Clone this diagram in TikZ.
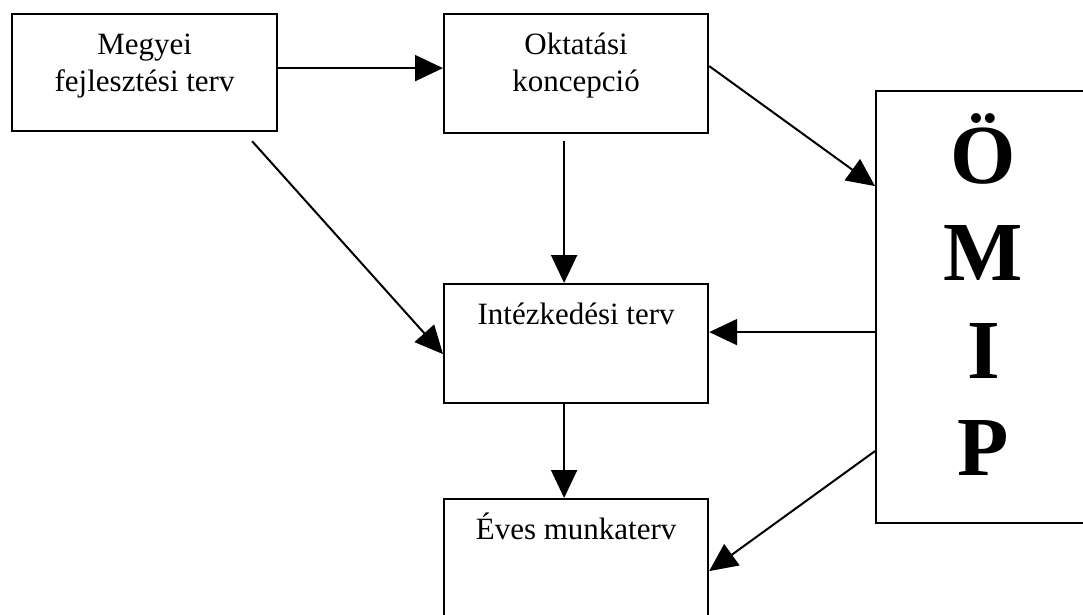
\documentclass[tikz,border=0pt]{standalone}
\usepackage{fontspec}
\setmainfont{Liberation Serif}
\usetikzlibrary{arrows.meta}

\newcommand{\doboz}[4][40]{\parbox[t][#3pt][t]{#2pt}{\centering\rule{0pt}{#1pt}#4}}

\begin{document}
\begin{tikzpicture}[x=1pt,y=-1pt]
\useasboundingbox (0,0) rectangle (1083,615);
\begin{scope}[every node/.style={draw,line width=2.2pt,inner sep=0pt,anchor=north west,
                                 font=\fontsize{31}{37}\selectfont}]
    \node (megyei) at (11,13) {\doboz{265}{117}{Megyei\\fejlesztési terv}};
    \node (oktatasi) at (443,13) {\doboz{264}{119}{Oktatási\\koncepció}};
    \node (intezkedesi) at (443,283) {\doboz{264}{119}{Intézkedési terv}};
    \node (eves) at (443,498) {\doboz{264}{127}{Éves munkaterv}};
    \node[font=\fontsize{84}{97.5}\selectfont\bfseries] (omip) at (875,90) {\doboz[92]{215}{432}{Ö\\M\\I\\P}};
\end{scope}

\begin{scope}[>={Triangle[length=28pt,width=26pt]},
              every edge/.style={draw=black, line width=2pt}]
    \path [->] ([yshift=4.5pt]megyei.east) edge ([yshift=5.5pt]oktatasi.west);
    \path [->] ([xshift=107.5pt,yshift=-9pt]megyei.south) edge ([yshift=-10.5pt]intezkedesi.west);
    \path [->] ([xshift=-12pt,yshift=-7pt]oktatasi.south) edge ([xshift=-12pt]intezkedesi.north);
    \path [->] ([yshift=7.5pt]oktatasi.east) edge ([yshift=121pt]omip.west);
    \path [->] ([yshift=-25pt]omip.west) edge ([yshift=11.5pt]intezkedesi.east);
    \path [->] ([xshift=-12pt]intezkedesi.south) edge ([xshift=-12pt]eves.north);
    \path [->] ([yshift=-144pt]omip.west) edge ([yshift=-8.5pt]eves.east);
\end{scope}
\end{tikzpicture}
\end{document}
